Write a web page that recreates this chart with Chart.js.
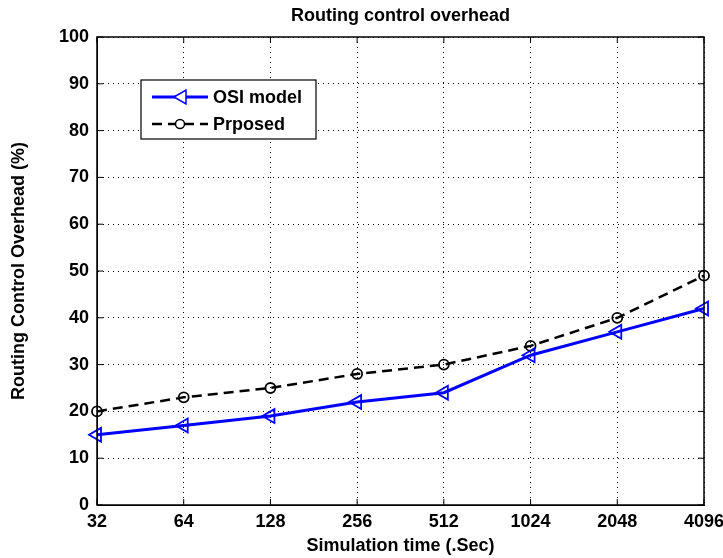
<!DOCTYPE html>
<html>
<head>
<meta charset="utf-8">
<script src="https://cdn.jsdelivr.net/npm/chart.js@4"></script>
<style>
  html, body { margin: 0; padding: 0; background: #fff; }
  #wrap { width: 723px; height: 558px; }
</style>
</head>
<body>
<div id="wrap"><canvas id="overheadChart" width="723" height="558"></canvas></div>
<script>
// values
const simTimes = ['32', '64', '128', '256', '512', '1024', '2048', '4096']
const osiModel = [15, 17, 19, 22, 24, 32, 37, 42]
const proposed = [20, 23, 25, 28, 30, 34, 40, 49]
const yTicks = [0, 10, 20, 30, 40, 50, 60, 70, 80, 90, 100]

const font = 'Liberation Sans, Arial, sans-serif'

// matlab style box, inward ticks and the in-plot legend
const boxPlugin = {
  id: 'matlabBox',
  afterDatasetsDraw(chart) {
    const { ctx, chartArea: a, scales } = chart
    ctx.save()
    ctx.strokeStyle = '#000'
    ctx.lineWidth = 1.5
    ctx.strokeRect(a.left, a.top, a.right - a.left, a.bottom - a.top)
    ctx.lineWidth = 1
    ctx.beginPath()
    scales.x.ticks.forEach((t, i) => {
      const x = scales.x.getPixelForTick(i)
      ctx.moveTo(x, a.bottom); ctx.lineTo(x, a.bottom - 6)
      ctx.moveTo(x, a.top); ctx.lineTo(x, a.top + 6)
    })
    scales.y.ticks.forEach((t, i) => {
      const y = scales.y.getPixelForTick(i)
      ctx.moveTo(a.left, y); ctx.lineTo(a.left + 6, y)
      ctx.moveTo(a.right, y); ctx.lineTo(a.right - 6, y)
    })
    ctx.stroke()

    // legend
    const lx = 141, ly = 80, lw = 175, lh = 59
    ctx.fillStyle = '#fff'
    ctx.fillRect(lx, ly, lw, lh)
    ctx.lineWidth = 1.2
    ctx.strokeRect(lx, ly, lw, lh)
    chart.data.datasets.forEach((ds, i) => {
      const y = ly + 17 + i * 27
      ctx.strokeStyle = ds.borderColor
      ctx.lineWidth = ds.borderWidth
      ctx.setLineDash(ds.borderDash || [])
      ctx.beginPath()
      ctx.moveTo(152, y); ctx.lineTo(208, y)
      ctx.stroke()
      ctx.setLineDash([])
      ctx.lineWidth = 1.5
      ctx.beginPath()
      if (i === 0) {
        ctx.moveTo(174, y); ctx.lineTo(186, y - 7); ctx.lineTo(186, y + 7); ctx.closePath()
      } else {
        ctx.arc(180, y, 4.5, 0, Math.PI * 2)
      }
      ctx.fillStyle = '#fff'
      ctx.fill()
      ctx.stroke()
      ctx.fillStyle = '#000'
      ctx.font = 'bold 18px ' + font
      ctx.textBaseline = 'middle'
      ctx.fillText(ds.label, 213, y + 1)
    })
    ctx.restore()
  }
}

new Chart(document.getElementById('overheadChart'), {
  type: 'line',
  data: {
    labels: simTimes,
    datasets: [
      {
        label: 'OSI model',
        data: osiModel,
        borderColor: '#0000ff',
        borderWidth: 3,
        pointStyle: 'triangle',
        rotation: -90,
        pointRadius: 8,
        pointBorderWidth: 1.8,
        pointBackgroundColor: 'rgba(0,0,0,0)',
        pointBorderColor: '#0000ff',
        tension: 0
      },
      {
        label: 'Prposed',
        data: proposed,
        borderColor: '#000',
        borderWidth: 2.5,
        borderDash: [10, 6],
        pointStyle: 'circle',
        pointRadius: 5,
        pointBorderWidth: 1.8,
        pointBackgroundColor: 'rgba(0,0,0,0)',
        pointBorderColor: '#000',
        tension: 0
      }
    ]
  },
  options: {
    responsive: false,
    animation: false,
    layout: { padding: 0 },
    plugins: {
      legend: { display: false },
      tooltip: { enabled: false },
      title: {
        display: true,
        fullSize: false,
        text: 'Routing control overhead',
        color: '#000',
        font: { family: font, size: 18, weight: 'bold', lineHeight: 1.2 },
        padding: { top: 5, bottom: 10.4 }
      }
    },
    scales: {
      x: {
        type: 'category',
        offset: false,
        grid: { color: '#000', lineWidth: 1, drawTicks: false },
        border: { display: true, color: '#000', dash: [1, 4] },
        ticks: { color: '#000', padding: 6, maxRotation: 0, font: { family: font, size: 18, weight: 'bold' } },
        title: {
          display: true,
          text: 'Simulation time (.Sec)',
          color: '#000',
          font: { family: font, size: 18, weight: 'bold', lineHeight: 1.2 },
          padding: { top: 0, bottom: 1 }
        },
        afterFit(s) { s.height = 53; s.paddingRight = 19; s.paddingLeft = 0 }
      },
      y: {
        min: 0,
        max: 100,
        afterBuildTicks(s) { s.ticks = yTicks.map(v => ({ value: v })) },
        grid: { color: '#000', lineWidth: 1, drawTicks: false },
        border: { display: true, color: '#000', dash: [1, 4] },
        ticks: { color: '#000', padding: 8, font: { family: font, size: 18, weight: 'bold' } },
        title: {
          display: true,
          text: 'Routing Control Overhead (%)',
          color: '#000',
          font: { family: font, size: 18, weight: 'bold', lineHeight: 1.2 },
          padding: { top: 8, bottom: 0 }
        },
        afterFit(s) { s.width = 97; s.paddingTop = 0; s.paddingBottom = 0 }
      }
    }
  },
  plugins: [boxPlugin]
})
</script>
</body>
</html>
